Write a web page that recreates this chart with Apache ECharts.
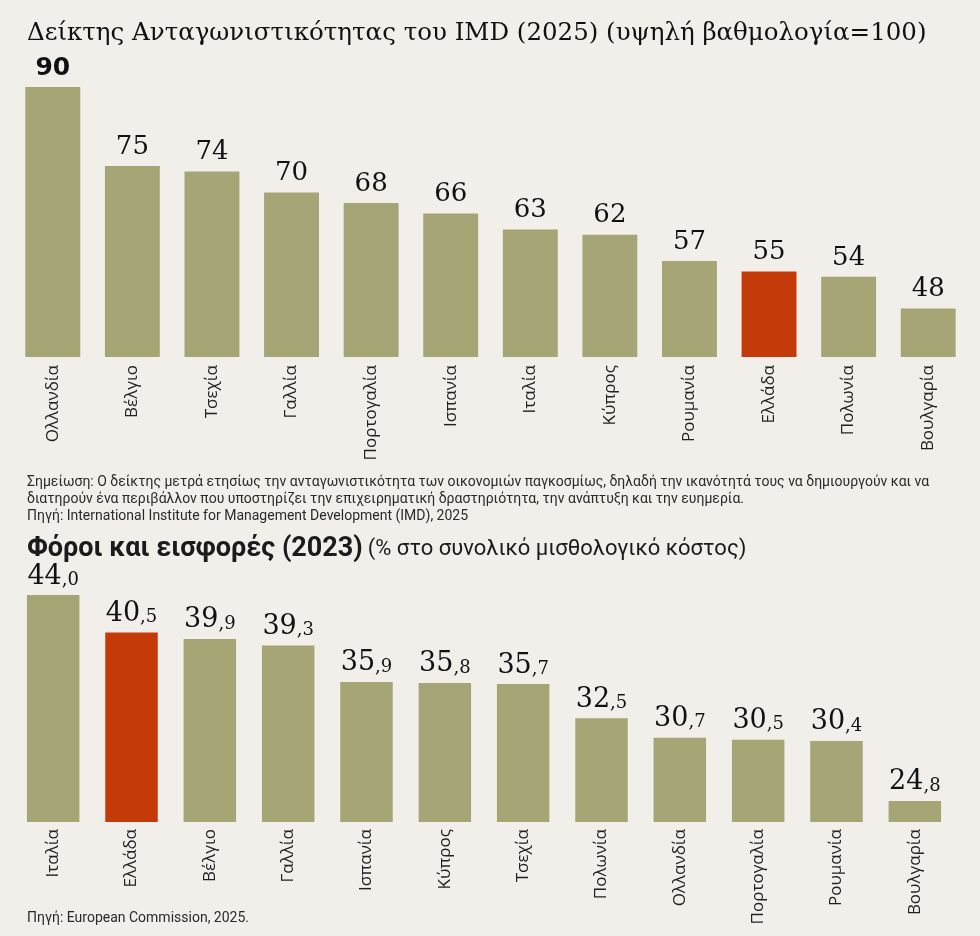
<!DOCTYPE html>
<html>
<head>
<meta charset="UTF-8">
<title>IMD / Φόροι και εισφορές</title>
<script type="text/javascript" src="https://cdn.jsdelivr.net/npm/echarts@6/dist/echarts.min.js"></script>
<style>
  html, body { margin: 0; padding: 0; background: #f2efea; }
  #main { width: 980px; height: 936px; }
</style>
</head>
<body>
<div id="main"></div>
<script type="text/javascript">
    // δεδομένα
    var imdCountries = ['Ολλανδία','Βέλγιο','Τσεχία','Γαλλία','Πορτογαλία','Ισπανία','Ιταλία','Κύπρος','Ρουμανία','Ελλάδα','Πολωνία','Βουλγαρία'];
    var imdScores = [90, 75, 74, 70, 68, 66, 63, 62, 57, 55, 54, 48];
    var taxCountries = ['Ιταλία','Ελλάδα','Βέλγιο','Γαλλία','Ισπανία','Κύπρος','Τσεχία','Πολωνία','Ολλανδία','Πορτογαλία','Ρουμανία','Βουλγαρία'];
    var taxShares = [44.0, 40.5, 39.9, 39.3, 35.9, 35.8, 35.7, 32.5, 30.7, 30.5, 30.4, 24.8];
    var highlight = 'Ελλάδα';

    var olive = '#a6a575';
    var red = '#c43a08';
    var ink = '#1b1b1b';

    function colored(names, values) {
        return values.map(function (v, i) {
            return { value: v, itemStyle: { color: names[i] === highlight ? red : olive } };
        });
    }

    var myChart = echarts.init(document.getElementById('main'));

    var catLabel = {
        rotate: 90,
        fontFamily: 'Open Sans',
        fontSize: 17,
        color: '#222'
    };

    var option = {
        backgroundColor: '#f2efea',
        animation: false,
        title: [
            {
                text: 'Δείκτης Ανταγωνιστικότητας του IMD (2025) (υψηλή βαθμολογία=100)',
                left: 22, top: 16,
                textStyle: { fontFamily: 'DejaVu Serif', fontWeight: 'normal', fontSize: 24.5, color: '#111' }
            },
            {
                text: 'Σημείωση: Ο δείκτης μετρά ετησίως την ανταγωνιστικότητα των οικονομιών παγκοσμίως, δηλαδή την ικανότητά τους να δημιουργούν και να\n' +
                      'διατηρούν ένα περιβάλλον που υποστηρίζει την επιχειρηματική δραστηριότητα, την ανάπτυξη και την ευημερία.\n' +
                      'Πηγή: International Institute for Management Development (IMD), 2025',
                left: 22, top: 469,
                textStyle: { fontFamily: 'Roboto', fontWeight: 'normal', fontSize: 14, lineHeight: 17, color: '#2a2a2a' }
            },
            {
                text: '{b|Φόροι και εισφορές (2023)} {n|(% στο συνολικό μισθολογικό κόστος)}',
                left: 22, top: 531,
                textStyle: {
                    rich: {
                        b: { fontFamily: 'Roboto', fontWeight: 'bold', fontSize: 27, color: ink },
                        n: { fontFamily: 'Roboto', fontWeight: 'normal', fontSize: 22, color: ink }
                    }
                }
            },
            {
                text: 'Πηγή: European Commission, 2025.',
                left: 22, top: 906,
                textStyle: { fontFamily: 'Roboto', fontWeight: 'normal', fontSize: 14, color: '#2a2a2a' }
            }
        ],
        grid: [
            { left: 13, right: 12, top: 87, height: 270 },
            { left: 14, right: 26, top: 595, height: 227 }
        ],
        xAxis: [
            {
                type: 'category', gridIndex: 0, data: imdCountries,
                axisLine: { show: false }, axisTick: { show: false },
                axisLabel: Object.assign({ margin: 8 }, catLabel)
            },
            {
                type: 'category', gridIndex: 1, data: taxCountries,
                axisLine: { show: false }, axisTick: { show: false },
                axisLabel: Object.assign({ margin: 7 }, catLabel)
            }
        ],
        yAxis: [
            { type: 'value', gridIndex: 0, min: 38.8, max: 90, show: false },
            { type: 'value', gridIndex: 1, min: 22.84, max: 44, show: false }
        ],
        series: [
            {
                type: 'bar', xAxisIndex: 0, yAxisIndex: 0,
                data: colored(imdCountries, imdScores),
                barCategoryGap: '31%',
                label: {
                    show: true, position: 'top', distance: 6,
                    formatter: function (p) {
                        return p.dataIndex === 0 ? '{t|' + p.value + '}' : '{n|' + p.value + '}';
                    },
                    rich: {
                        t: { fontFamily: 'DejaVu Sans', fontWeight: 'bold', fontSize: 25, color: '#111' },
                        n: { fontFamily: 'DejaVu Serif', fontSize: 26, color: '#111' }
                    }
                }
            },
            {
                type: 'bar', xAxisIndex: 1, yAxisIndex: 1,
                data: colored(taxCountries, taxShares),
                barCategoryGap: '33%',
                label: {
                    show: true, position: 'top', distance: 5,
                    formatter: function (p) {
                        var s = p.value.toFixed(1).split('.');
                        return '{i|' + s[0] + '}{d|,' + s[1] + '}';
                    },
                    rich: {
                        i: { fontFamily: 'DejaVu Serif', fontSize: 27, color: '#111' },
                        d: { fontFamily: 'DejaVu Serif', fontSize: 18, color: '#111', verticalAlign: 'bottom', padding: [0, 0, 1, 0] }
                    }
                }
            }
        ]
    };

    myChart.setOption(option);
</script>
</body>
</html>
